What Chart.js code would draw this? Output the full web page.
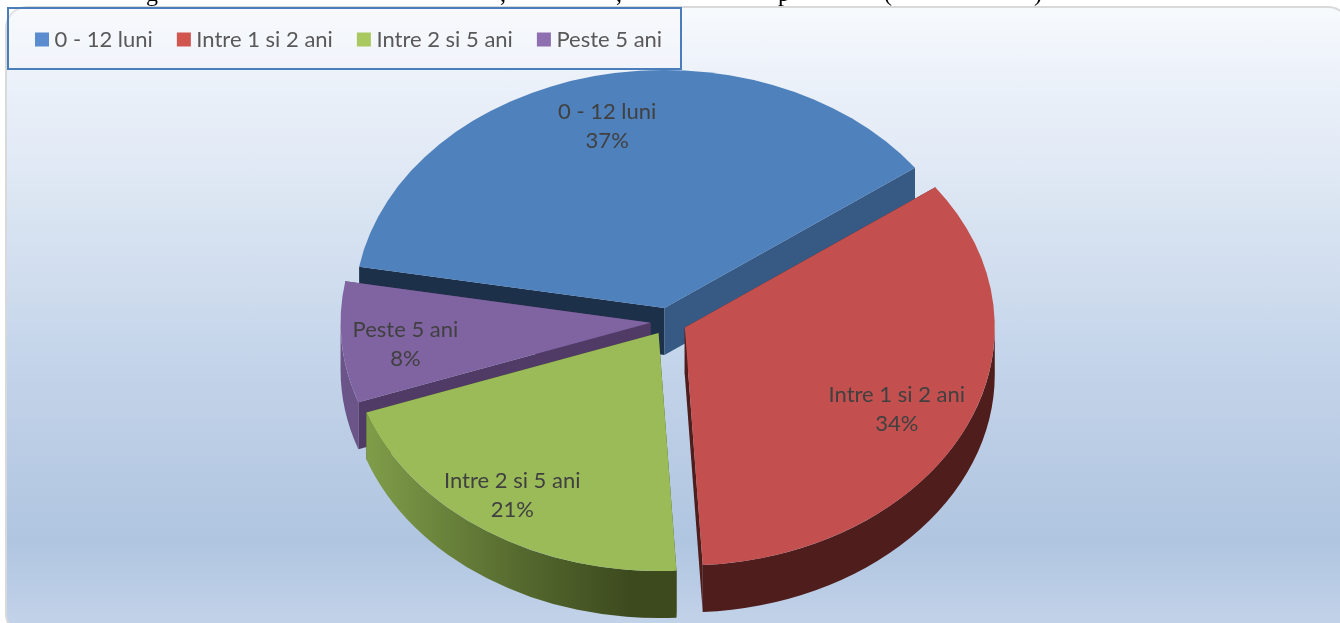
<!DOCTYPE html>
<html>
<head>
<meta charset="utf-8">
<style>
html,body{margin:0;padding:0;background:#fff;width:1340px;height:623px;overflow:hidden}
#bg{position:absolute;left:5px;top:6px;width:1345px;height:630px;box-sizing:border-box;border:2px solid #d9d9d9;border-radius:22px;
background:linear-gradient(180deg,#f7fafd 0%,#edf2fa 10%,#dce6f3 30%,#c5d5ea 55%,#b0c5e0 85%,#c4d4ea 100%)}
#wrap{position:absolute;left:0;top:0;width:1340px;height:623px}
</style>
<script src="https://cdn.jsdelivr.net/npm/chart.js@4"></script>
</head>
<body>
<div id="bg"></div>
<div id="wrap"><canvas id="c" width="1340" height="623"></canvas></div>
<script>
const categories = ['0 - 12 luni', 'Intre 1 si 2 ani', 'Intre 2 si 5 ani', 'Peste 5 ani'];
const values = [37.2, 34.1, 20.5, 8.2];
const percentLabels = ['37%', '34%', '21%', '8%'];
const faceColors = ['#4f81bd', '#c3504e', '#9bbb59', '#8064a2'];
const legendColors = ['#5a8ccf', '#d0564f', '#a9c860', '#8e6fb0'];
const cutStartColors = ['#1c3149', '#4e1d1c', '#3d4a1e', '#4f3b66'];
const cutEndColors = ['#375a84', '#4e1d1c', '#3d4a1e', '#4f3b66'];
const rimColors = ['#375a84', '#4e1d1c', null, '#6a5488'];
const labelRadiusFractions = [0.79, 0.76, 0.83, 0.80];
const labelNudgeX = [-2, -1, -4, 2];
const labelNudgeY = [2, 5, -2, 6];
const drawOrder = [0, 3, 2, 1];
const titleFragments = [['g', 146], [',', 500], [',', 616], ['p', 778], ['(', 884], [')', 1034]];

const PIE_CX = 668.5, PIE_CY = 321.5, PIE_R = 310, TILT = 0.768, EXPLODE = 18, DEPTH = 47;
const FONT = 'Lato, "Open Sans", sans-serif';
const FONT_SIZE = 22;

function sliceGeom(arc) {
  const mid = (arc.startAngle + arc.endAngle) / 2;
  const cx = PIE_CX + Math.cos(mid) * EXPLODE;
  const cy = PIE_CY + Math.sin(mid) * EXPLODE * TILT;
  return { mid, cx, cy };
}

const pie3d = {
  id: 'pie3d',
  afterLayout(chart) {
    chart.legend.top = -1;
  },
  beforeDraw(chart) {
    const ctx = chart.ctx;
    ctx.save();
    ctx.font = '24px "Liberation Serif"';
    ctx.fillStyle = '#000';
    ctx.textBaseline = 'alphabetic';
    titleFragments.forEach(([t, x]) => ctx.fillText(t, x, 1));
    ctx.fillStyle = 'rgba(247,250,253,0.3)';
    ctx.strokeStyle = '#4a7ebb';
    ctx.lineWidth = 2;
    ctx.fillRect(8, 8, 673, 61);
    ctx.strokeRect(8, 8, 673, 61);
    ctx.restore();
  },
  beforeDatasetsDraw(chart) {
    const ctx = chart.ctx;
    const arcs = chart.getDatasetMeta(0).data;
    drawOrder.forEach(i => {
      const arc = arcs[i];
      const R = arc.outerRadius;
      const { cx, cy } = sliceGeom(arc);
      const ry = R * TILT;
      const px = a => cx + Math.cos(a) * R;
      const py = a => cy + Math.sin(a) * ry;
      const cut = (a, color) => {
        ctx.fillStyle = color;
        ctx.beginPath();
        ctx.moveTo(cx, cy);
        ctx.lineTo(px(a), py(a));
        ctx.lineTo(px(a), py(a) + DEPTH);
        ctx.lineTo(cx, cy + DEPTH);
        ctx.closePath();
        ctx.fill();
      };
      ctx.save();
      cut(arc.startAngle, cutStartColors[i]);
      cut(arc.endAngle, cutEndColors[i]);
      const a0 = Math.max(arc.startAngle, 0);
      const a1 = Math.min(arc.endAngle, Math.PI);
      if (a1 > a0) {
        let fill = rimColors[i];
        if (!fill) {
          fill = ctx.createLinearGradient(px(a1), 0, px(a0), 0);
          fill.addColorStop(0, '#7f9d49');
          fill.addColorStop(0.5, '#55692e');
          fill.addColorStop(0.85, '#3d4a1e');
          fill.addColorStop(1, '#3d4a1e');
        }
        ctx.fillStyle = fill;
        ctx.beginPath();
        ctx.ellipse(cx, cy, R, ry, 0, a0, a1);
        ctx.ellipse(cx, cy + DEPTH, R, ry, 0, a1, a0, true);
        ctx.closePath();
        ctx.fill();
      }
      ctx.restore();
      ctx.save();
      ctx.translate(cx, cy);
      ctx.scale(1, TILT);
      ctx.translate(-arc.x, -arc.y);
      arc.draw(ctx);
      ctx.restore();
    });
    ctx.save();
    ctx.font = FONT_SIZE + 'px ' + FONT;
    ctx.fillStyle = '#404040';
    ctx.textAlign = 'center';
    ctx.textBaseline = 'middle';
    arcs.forEach((arc, i) => {
      const { mid, cx, cy } = sliceGeom(arc);
      const r = arc.outerRadius * labelRadiusFractions[i];
      const x = cx + Math.cos(mid) * r + labelNudgeX[i];
      const y = cy + Math.sin(mid) * r * TILT + labelNudgeY[i];
      ctx.fillText(categories[i], x, y - 14.5);
      ctx.fillText(percentLabels[i], x, y + 14.5);
    });
    ctx.restore();
    return false;
  }
};

new Chart(document.getElementById('c'), {
  type: 'pie',
  data: {
    labels: categories,
    datasets: [{ data: values, backgroundColor: faceColors, borderWidth: 0, hoverOffset: 0 }]
  },
  options: {
    responsive: false,
    animation: false,
    rotation: -80,
    radius: PIE_R,
    layout: { padding: { left: 11, top: 0, right: 0, bottom: 0 } },
    plugins: {
      tooltip: { enabled: false },
      legend: {
        position: 'top',
        align: 'start',
        labels: {
          boxWidth: 3,
          boxHeight: 3,
          padding: 29.5,
          color: '#595959',
          font: { family: FONT, size: FONT_SIZE },
          generateLabels: () => categories.map((text, i) => ({
            text,
            fillStyle: legendColors[i],
            strokeStyle: legendColors[i],
            lineWidth: 11,
            fontColor: '#595959',
            index: i
          }))
        }
      }
    }
  },
  plugins: [pie3d]
});
</script>
</body>
</html>
